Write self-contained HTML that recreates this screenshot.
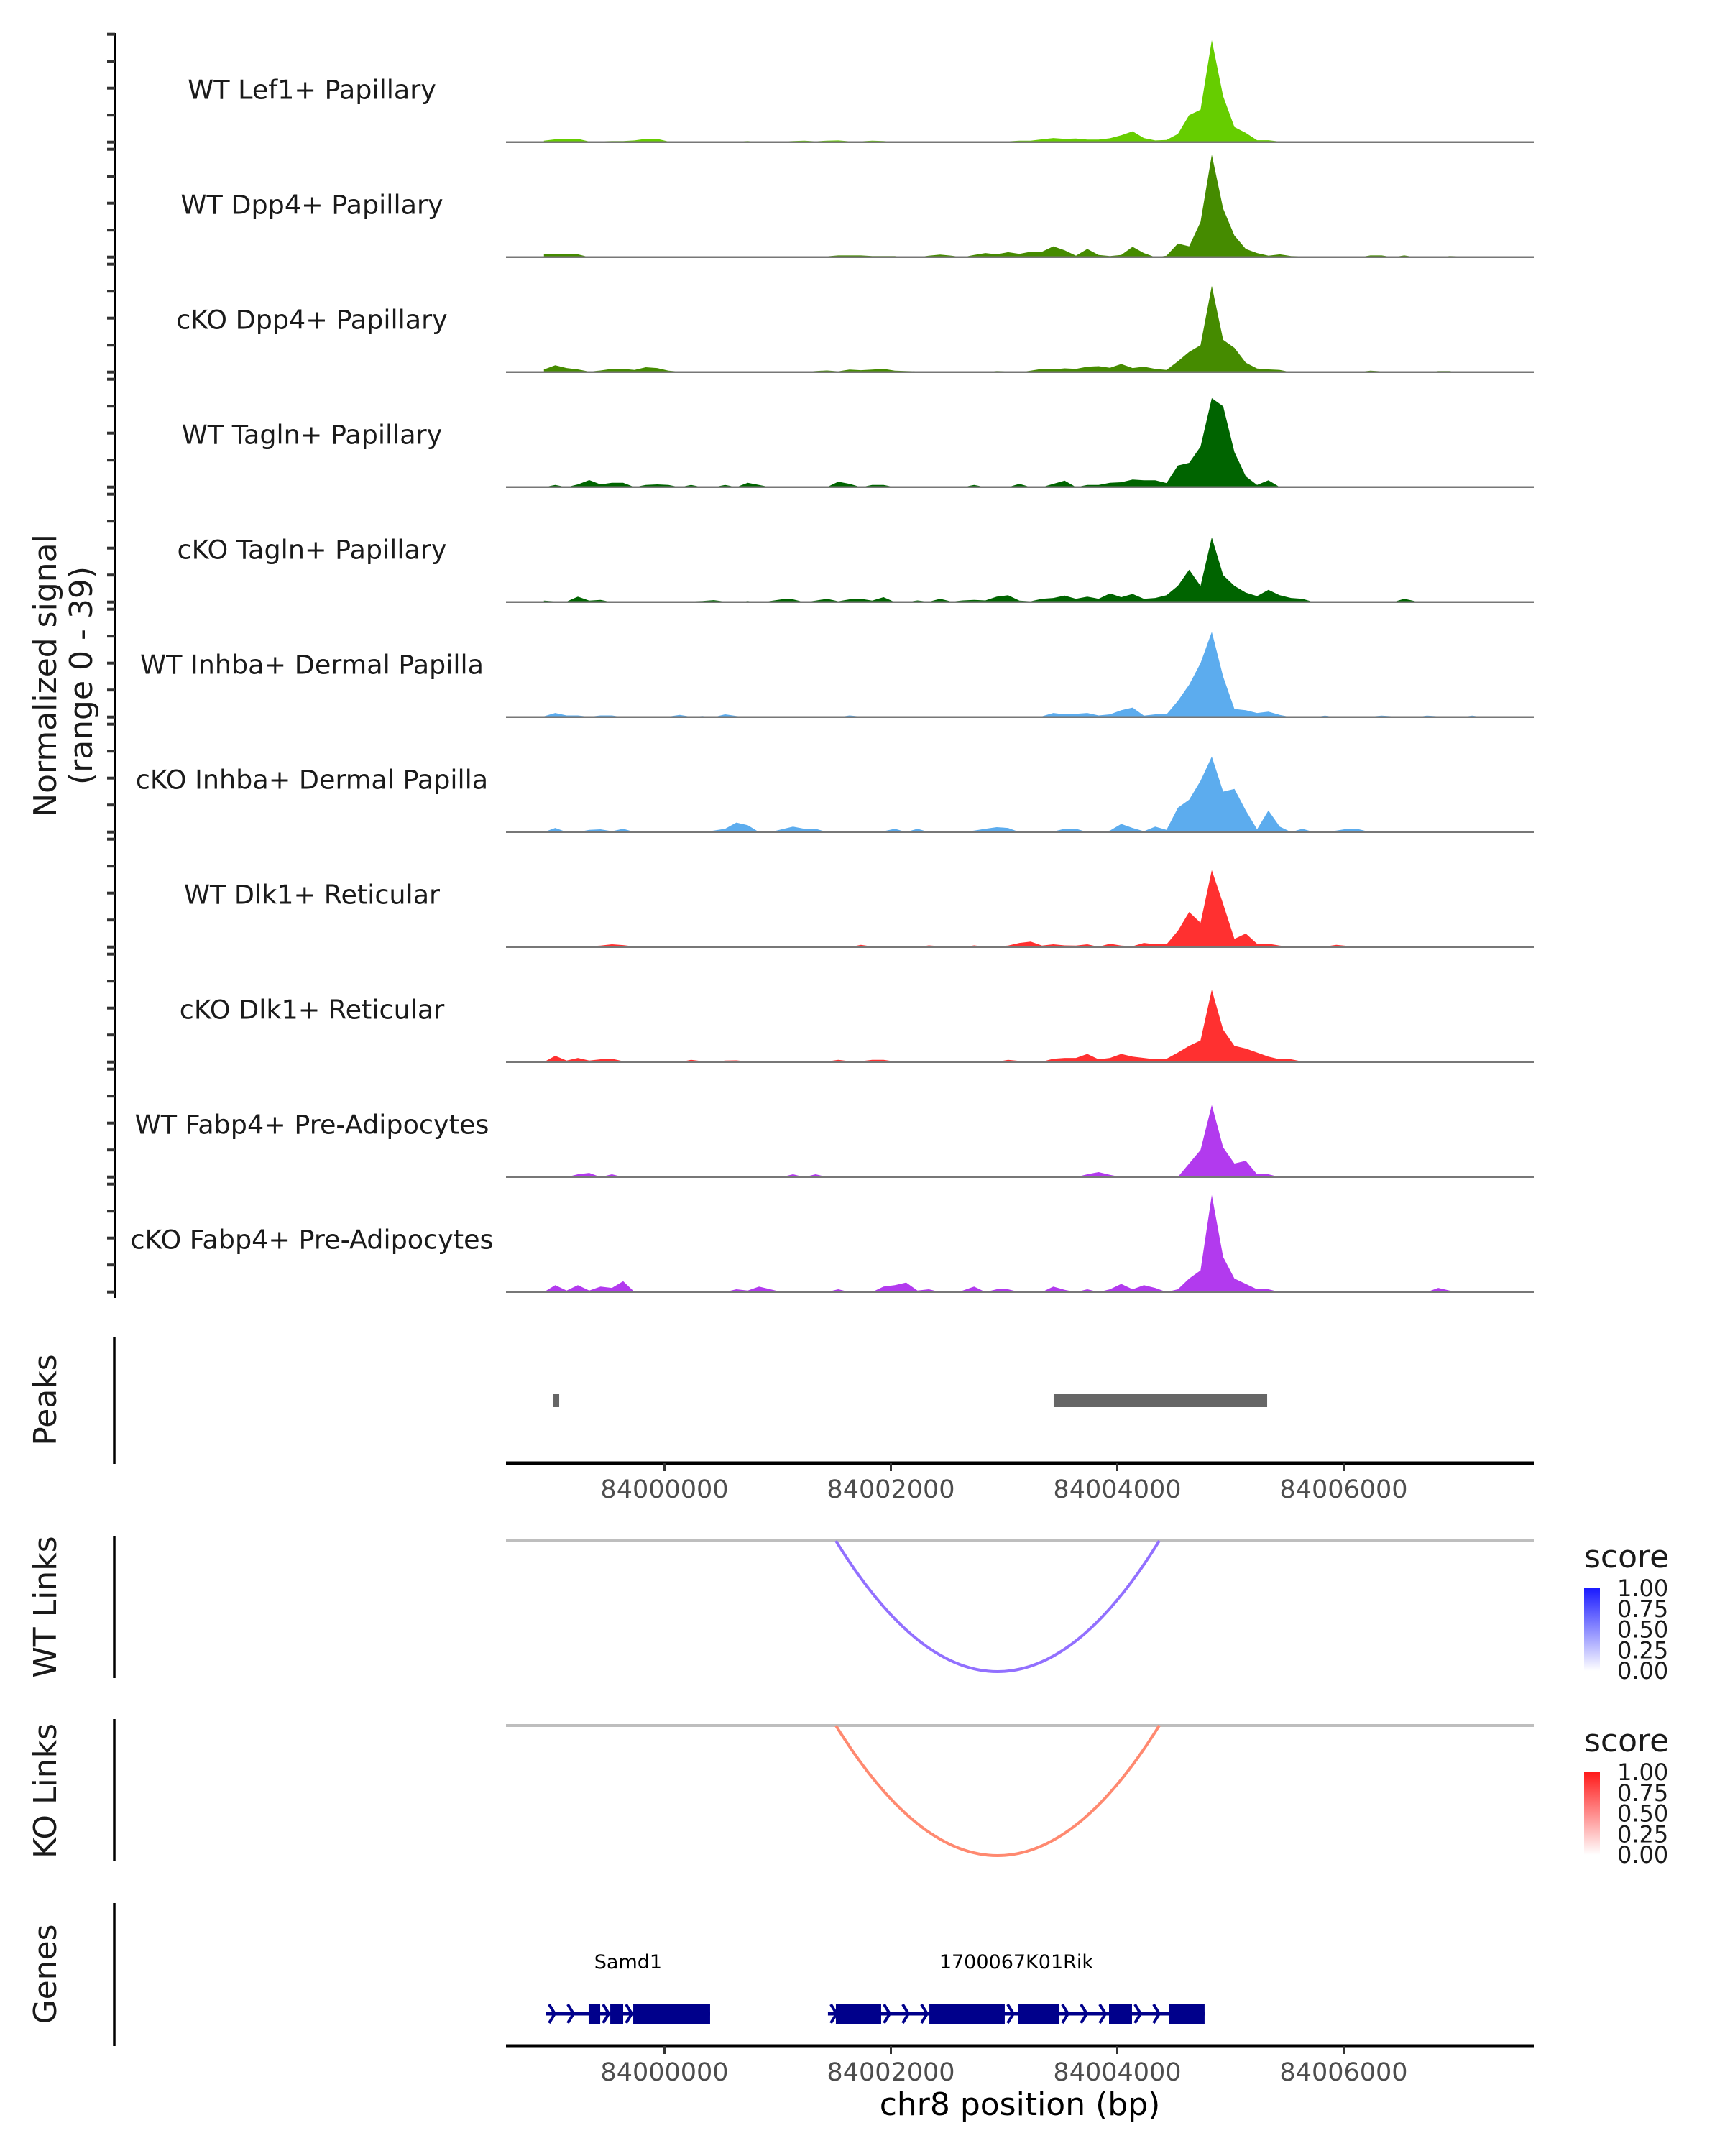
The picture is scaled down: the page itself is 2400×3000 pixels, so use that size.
<!DOCTYPE html>
<html><head><meta charset="utf-8"><style>
html,body{margin:0;padding:0;background:#fff;}
svg{display:block;font-family:"DejaVu Sans","Liberation Sans",sans-serif;}
</style></head>
<body>
<svg id="chart" xmlns="http://www.w3.org/2000/svg" width="2400" height="3000" viewBox="0 0 2400 3000">
<rect width="2400" height="3000" fill="#fff"/>
<g id="tracks"></g>
<text transform="translate(78,940) rotate(-90)" text-anchor="middle" font-size="44" fill="#1a1a1a">Normalized signal</text>
<text transform="translate(128,940) rotate(-90)" text-anchor="middle" font-size="44" fill="#1a1a1a">(range 0 - 39)</text>
<g id="peaks"></g>
<g id="links"></g>
<g id="genes"></g>
</svg>
<script>
const NS="http://www.w3.org/2000/svg";
// ---- data ----
const binStart=83998935; const binSize=100;
const trackNames=["WT Lef1+ Papillary","WT Dpp4+ Papillary","cKO Dpp4+ Papillary","WT Tagln+ Papillary","cKO Tagln+ Papillary","WT Inhba+ Dermal Papilla","cKO Inhba+ Dermal Papilla","WT Dlk1+ Reticular","cKO Dlk1+ Reticular","WT Fabp4+ Pre-Adipocytes","cKO Fabp4+ Pre-Adipocytes"];
const trackColors=["#66CD00","#458B00","#458B00","#006400","#006400","#5CACEE","#5CACEE","#FF3030","#FF3030","#B23AEE","#B23AEE"];
const sigLef1WT=[0.5,1.0,1.0,1.2,0.2,0.3,0.4,0.4,0.6,1.2,1.2,0.2,0.1,0.1,0.1,0.1,0.1,0.2,0.4,0.1,0.1,0.2,0.4,0.5,0.3,0.5,0.6,0.3,0.3,0.5,0.4,0.1,0.1,0.2,0.2,0.1,0.1,0,0,0,0.1,0.3,0.5,0.5,1.0,1.5,1.2,1.3,0.9,0.9,1.4,2.5,4.0,1.5,0.6,0.8,3.0,10,12,37.8,17,5.6,3.4,0.7,0.7,0.2,0.2,0.1,0.1,0.1,0.1,0.2,0.3,0.2,0.2,0.3,0.1,0.1,0.1,0.1,0,0,0,0];
const sigDpp4WT=[1.1,1.1,1.1,1.0,0,0,0.3,0,0,0,0,0,0,0,0,0,0,0,0,0,0,0,0,0,0.3,0.3,0.6,0.6,0.6,0.4,0.4,0.4,0,0,0.5,0.9,0.5,0,0.8,1.5,1.0,1.8,1.2,2.0,2.0,4.0,2.5,0.5,3.0,0.8,0.4,0.8,3.8,1.5,0,0.5,5,4,13,38,18,8,3,1.5,0.5,1.0,0.4,0.3,0.1,0.1,0.1,0,0,0.6,0.6,0,0.6,0,0,0,0.4,0.3,0.3,0];
const sigDpp4KO=[1.0,2.5,1.5,1.0,0.2,0.6,1.2,1.2,0.8,1.8,1.5,0.5,0.2,0.2,0,0.1,0.3,0.1,0.1,0.1,0.1,0.1,0.1,0.1,0.4,0.6,0.3,0.9,0.7,0.9,1.2,0.5,0.4,0.3,0.1,0,0,0.3,0.1,0.1,0.4,0.3,0,0.5,1.2,1.0,1.4,1.2,2.0,2.2,1.6,3.0,1.5,2.0,1.2,0.8,4.0,7.5,10,32,12,9,3.5,1.3,1.0,0.8,0,0.1,0.1,0,0,0,0.1,0.5,0.3,0.3,0.3,0,0,0.4,0.4,0,0,0];
const sigTaglnWT=[0,0.8,0,1.0,2.6,1.0,1.6,1.6,0,0.8,1.0,0.8,0,0.8,0,0,0.8,0,1.6,0.8,0,0,0,0,0,0,2.0,1.2,0,0.8,0.8,0,0,0,0,0,0,0,0.8,0,0,0,1.2,0,0,1.2,2.4,0,0.8,0.8,1.6,1.8,2.8,2.5,2.5,1.5,8,9,15,33,30,13,4,0.8,2.5,0,0,0,0,0,0,0,0,0,0,0,0,0,0,0,0,0,0,0];
const sigTaglnKO=[0.5,0.3,0.2,2.0,0.5,0.8,0,0,0,0,0,0,0,0.3,0.4,0.7,0.2,0,0.4,0,0.4,1.0,1.0,0,0.5,1.2,0.3,1.0,1.2,0.5,1.8,0,0,0.6,0.1,1.2,0.2,0.6,0.8,0.6,2.0,2.5,0.5,0.3,1.2,1.5,2.4,1.2,2.0,1.2,3.2,1.8,3.0,1.2,1.5,2.5,6,12,6,24,10,6,3.5,2.2,4.5,2.5,1.5,1.2,0,0.3,0,0,0,0,0,0,1.2,0.3,0,0,0,0,0,0];
const sigInhbaWT=[0.3,1.5,0.6,0.6,0.1,0.6,0.6,0,0,0.3,0.2,0.2,0.8,0.1,0.4,0,1.0,0.4,0,0,0,0,0.3,0.2,0.2,0,0,0.6,0.2,0,0.3,0,0,0,0,0,0,0,0,0,0,0,0.3,0,0.3,1.5,1.0,1.2,1.5,0.6,1.0,2.5,3.5,0.5,1.0,1.0,6,12,20,31.6,15,3,2.5,1.5,2.0,0.8,0,0,0,0.5,0,0,0,0.2,0.5,0.3,0,0,0.5,0.3,0.3,0,0.5,0];
const sigInhbaKO=[0,1.5,0,0,0.8,1.0,0.3,1.2,0,0,0,0,0,0,0,0.5,1.2,3.5,2.5,0,0,1.0,2.0,1.2,1.2,0,0,0,0,0,0.3,1.2,0,1.2,0,0,0,0,0.5,1.2,1.8,1.5,0,0,0,0.2,1.2,1.2,0,0,0.5,3,1.5,0.3,2.0,0.8,9,12,19,28,15,16,8,1.0,8,2,0,1.2,0,0,0.5,1.2,1.0,0,0,0,0,0,0,0,0,0,0,0];
const sigDlk1WT=[0.1,0.2,0.3,0.2,0.3,0.5,1.0,0.7,0.2,0.4,0,0,0,0,0,0.2,0,0.2,0,0,0,0,0.2,0.2,0,0,0,0,0.8,0.2,0.2,0,0,0,0.6,0.3,0.3,0,0.6,0.1,0.3,0.5,1.5,2.0,0.5,1.0,0.6,0.5,1.0,0.1,1.2,0.5,0.3,1.5,1.0,1.0,6,13,9,28.5,16,3,5,1.2,1.2,0.5,0,0.4,0.2,0.2,0.8,0.4,0,0.2,0,0,0,0,0,0,0,0,0.3,0];
const sigDlk1KO=[0,2.3,0.5,1.5,0.5,1.0,1.2,0.3,0.2,0.1,0.1,0,0,0.8,0.3,0,0.5,0.6,0.2,0.2,0.3,0.3,0.3,0.3,0.2,0.2,0.8,0.3,0.3,0.8,0.8,0.2,0.1,0.1,0.1,0.1,0.1,0.3,0.2,0.1,0,0.8,0.4,0.1,0.1,1.2,1.5,1.5,3.0,1.0,1.5,3.0,2.0,1.5,1.0,1.2,3.5,6,8,26.8,12,6,5,3.5,2.0,1.0,1.0,0.2,0.1,0.1,0.1,0,0,0,0,0,0.1,0,0,0.2,0.3,0,0,0];
const sigFabp4WT=[0,0,0,1.0,1.5,0,1.0,0,0,0,0,0,0,0,0,0,0,0,0,0,0,0,1.0,0,1.0,0,0,0,0,0,0,0,0,0,0,0,0,0,0,0,0,0,0,0,0,0,0,0,1.0,1.8,0.8,0,0,0,0,0,0,5,10,26.7,11,5,6,1.0,1.0,0,0,0,0,0,0,0,0,0,0,0,0,0,0,0,0,0,0,0];
const sigFabp4KO=[0,2.5,0.5,2.5,0.5,2.0,1.5,4.0,0,0,0,0,0,0,0,0,0,1.0,0.5,2.0,1.0,0,0,0,0,0,1.0,0,0,0,2.0,2.5,3.5,0.5,1.0,0,0,0.5,2.0,0,1.0,1.0,0,0,0,2.0,0.8,0,1.0,0,1.0,3.0,1.0,2.5,1.5,0,1.0,5,8,36,13,5,3,1.0,1.0,0,0,0,0,0,0,0,0,0,0,0,0,0,0,1.5,0.5,0,0,0];
const signals=[sigLef1WT,sigDpp4WT,sigDpp4KO,sigTaglnWT,sigTaglnKO,sigInhbaWT,sigInhbaKO,sigDlk1WT,sigDlk1KO,sigFabp4WT,sigFabp4KO];
const yTicks=[0,10,20,30,40];
const xTicks=[84000000,84002000,84004000,84006000];
const peakStarts=[83999019,84003438];
const peakEnds=[83999070,84005324];
const linkStarts=[84001514]; const linkEnds=[84004371];
const linkScoreWT=[0.6]; const linkScoreKO=[0.6];
const legendLabels=["1.00","0.75","0.50","0.25","0.00"];
const geneNames=["Samd1","1700067K01Rik"];
const geneStarts=[83998955,84001444];
const geneEnds=[84000403,84004771];
const exonStarts=[[83999330,83999521,83999724],[84001514,84002340,84003121,84003927,84004454]];
const exonEnds=[[83999432,83999635,84000403],[84001914,84003006,84003489,84004130,84004771]];

// ---- scales ----
const X=bp=>924.5+(bp-84000000)*0.1575;
const PL=704, PR=2134;
const base0=197.7, trackStep=160, unitPx=3.75;
function el(tag,attrs,parent){const e=document.createElementNS(NS,tag);for(const k in attrs)e.setAttribute(k,attrs[k]);parent.appendChild(e);return e;}

// ---- coverage tracks ----
const gT=document.getElementById('tracks');
const ax=el('line',{x1:160,y1:46,x2:160,y2:1806,stroke:'#000','stroke-width':4},gT);


signals.forEach((vals,t)=>{
  const b=base0+t*trackStep;
  yTicks.forEach(v=>{
    const tk=el('line',{x1:149,x2:160,y1:b-v*unitPx,y2:b-v*unitPx,stroke:'#333','stroke-width':4},gT);
    
    
  });
  let d='M'+X(binStart).toFixed(1)+','+b;
  vals.forEach((v,i)=>{d+=' L'+X(binStart+i*binSize).toFixed(1)+','+(b-v*unitPx).toFixed(1);});
  d+=' L'+X(binStart+(vals.length-1)*binSize).toFixed(1)+','+b+' Z';
  const p=el('path',{d:d,fill:trackColors[t]},gT);
  
  
  const bl=el('line',{x1:PL,x2:PR,y1:b,y2:b,stroke:'#777','stroke-width':2.5},gT);
  
  
  const lb=el('text',{x:434,y:b-60,'text-anchor':'middle','font-size':36.5,fill:'#1a1a1a'},gT);
  lb.textContent=trackNames[t];
  
  
});

// ---- side labels helper ----
function sideLabel(g,txt,cy,y1,y2,name){
  const t=el('text',{transform:'translate(78,'+cy+') rotate(-90)','text-anchor':'middle','font-size':44,fill:'#1a1a1a'},g);
  t.textContent=txt;
  
  
  const l=el('line',{x1:159,x2:159,y1:y1,y2:y2,stroke:'#000','stroke-width':3.5},g);
  
  
}
function xAxis(g,y,name){
  const l=el('line',{x1:PL,x2:PR,y1:y,y2:y,stroke:'#000','stroke-width':5},g);
  
  
  xTicks.forEach(v=>{
    const tk=el('line',{x1:X(v),x2:X(v),y1:y,y2:y+11,stroke:'#333','stroke-width':3},g);
    
    
    const tl=el('text',{x:X(v),y:y+48,'text-anchor':'middle','font-size':35,fill:'#4d4d4d'},g);
    tl.textContent=String(v);
    
    
  });
}

// ---- peaks ----
const gP=document.getElementById('peaks');
sideLabel(gP,'Peaks',1948,1861,2037,'peaks-label');
peakStarts.forEach((s,i)=>{
  const r=el('rect',{x:X(s),y:1940,width:Math.max(4,X(peakEnds[i])-X(s)),height:18,fill:'#666'},gP);
  
  
});
xAxis(gP,2036,'peaks-x-axis');

// ---- links ----
const gL=document.getElementById('links');
function mix(a,b,t){const pa=a.match(/\w\w/g).map(h=>parseInt(h,16)),pb=b.match(/\w\w/g).map(h=>parseInt(h,16));return 'rgb('+pa.map((v,i)=>Math.round(v+(pb[i]-v)*t)).join(',')+')';}
function linkTrack(top,bottom,axTop,axBot,label,cy,scores,c0,c1,name){
  sideLabel(gL,label,cy,axTop,axBot,name);
  const gl=el('line',{x1:PL,x2:PR,y1:top,y2:top,stroke:'#bebebe','stroke-width':4},gL);
  
  
  linkStarts.forEach((s,i)=>{
    const x1=X(s),x2=X(linkEnds[i]);
    const col=mix(c0,c1,scores[i]);
    const p=el('path',{d:'M'+x1+','+top+' Q'+((x1+x2)/2)+','+(2*bottom-top)+' '+x2+','+top,fill:'none',stroke:col,'stroke-width':4},gL);
    
    
  });
}
linkTrack(2144,2326,2137,2335,'WT Links',2236,linkScoreWT,'ffffff','4a10ff','wt-links-label');
linkTrack(2401,2582,2392,2590,'KO Links',2492,linkScoreKO,'ffffff','ff3a10','ko-links-label');
// legends
function legend(y0,c1,id,name){
  const t=el('text',{x:2204,y:y0,'font-size':44,fill:'#1a1a1a'},gL);
  t.textContent='score';
  
  
  const defs=el('defs',{},gL);
  const lg=el('linearGradient',{id:id,x1:0,y1:1,x2:0,y2:0},defs);
  el('stop',{offset:0,'stop-color':'#ffffff'},lg);
  el('stop',{offset:1,'stop-color':c1},lg);
  const r=el('rect',{x:2204,y:y0+29,width:22,height:115,fill:'url(#'+id+')'},gL);
  
  
  legendLabels.forEach((lab,i)=>{
    const tl=el('text',{x:2250,y:y0+29+i*28.75+11,'font-size':32,fill:'#1a1a1a'},gL);
    tl.textContent=lab;
    
    
  });
}
legend(2181,'#1a1aff','gwt','wt-legend');
legend(2437,'#ff1a1a','gko','ko-legend');

// ---- genes ----
const gG=document.getElementById('genes');
sideLabel(gG,'Genes',2747,2648,2847,'genes-label');
const gy=2802, gc='#00008B';
geneStarts.forEach((s,g)=>{
  const ln=el('line',{x1:X(s),x2:X(geneEnds[g]),y1:gy,y2:gy,stroke:gc,'stroke-width':5},gG);
  
  
  let prev=X(s);
  const starts=exonStarts[g].map(X), ends=exonEnds[g].map(X);
  const segs=[];
  starts.forEach((xs,i)=>{segs.push([prev,xs]);prev=ends[i];});
  segs.forEach(([a,b])=>{
    for(let cx=a+4;cx<b-6;cx+=26){
      const ch=el('path',{d:'M'+cx+','+(gy-13)+' L'+(cx+8)+','+gy+' L'+cx+','+(gy+13),fill:'none',stroke:gc,'stroke-width':4},gG);
      
      
    }
  });
  starts.forEach((xs,i)=>{
    const r=el('rect',{x:xs,y:gy-14,width:ends[i]-xs,height:28,fill:gc},gG);
    
    
  });
  const t=el('text',{x:(X(s)+X(geneEnds[g]))/2,y:2739,'text-anchor':'middle','font-size':27,fill:'#000'},gG);
  t.textContent=geneNames[g];
  
  
});
xAxis(gG,2847,'genes-x-axis');
const xt=el('text',{x:1419,y:2943,'text-anchor':'middle','font-size':44,fill:'#000'},gG);
xt.textContent='chr8 position (bp)';


</script>
</body></html>
